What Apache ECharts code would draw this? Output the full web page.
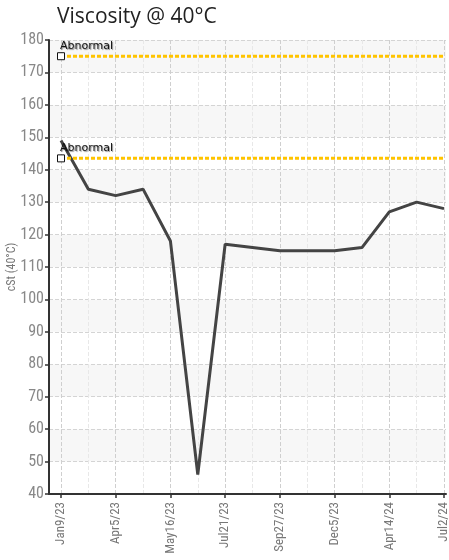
<!DOCTYPE html>
<html>
<head>
<meta charset="utf-8">
<script src="https://cdn.jsdelivr.net/npm/echarts@6/dist/echarts.min.js"></script>
<style>html,body{margin:0;padding:0;background:#fff;}#c{width:449px;height:560px;}</style>
</head>
<body>
<div id="c"></div>
<script>
const categories = ['Jan9/23','Feb15/23','Apr5/23','Apr25/23','May16/23','Jun8/23','Jul21/23','Aug20/23','Sep27/23','Nov1/23','Dec5/23','Feb10/24','Apr14/24','May20/24','Jul2/24'];
const viscosity = [149, 134, 132, 134, 118, 46, 117, 116, 115, 115, 115, 116, 127, 130, 128];
const abnormalHigh = 175;
const abnormalLow = 143.5;
const abnormalLabel = 'Abnormal';
const yMin = 40, yMax = 180, yStep = 10;

const narrow = "'Liberation Sans Narrow', 'Roboto Condensed', 'Arial Narrow', sans-serif";

function thresholdData(v) {
  return categories.map((c, i) => i === 0 ? {
    value: v,
    symbol: 'rect',
    symbolSize: 7,
    itemStyle: {color: '#fff', borderColor: '#111', borderWidth: 1},
    label: {
      show: true, formatter: abnormalLabel, position: [3, -6], align: 'left', verticalAlign: 'middle',
      fontFamily: 'DejaVu Sans', fontSize: 11, color: '#111',
      textShadowColor: 'rgba(0,0,0,0.45)', textShadowBlur: 1, textShadowOffsetX: 1, textShadowOffsetY: 1
    }
  } : {value: v, symbol: 'none'});
}

const chart = echarts.init(document.getElementById('c'), null, {renderer: 'canvas'});
chart.setOption({
  animation: false,
  backgroundColor: '#fff',
  title: {
    text: 'Viscosity @ 40°C', left: 52, top: 3, padding: [4, 5],
    textStyle: {fontFamily: 'Open Sans', fontSize: 21, fontWeight: 'normal', color: '#222'}
  },
  grid: [
    {left: 49, right: 3, top: 40, bottom: 66, containLabel: false, outerBoundsMode: 'none'},
    {left: 61, right: 5, top: 40, bottom: 66, containLabel: false, outerBoundsMode: 'none'}
  ],
  xAxis: [
    {
      gridIndex: 0, type: 'value', min: 0, max: 1,
      axisLine: {show: true, lineStyle: {color: '#333', width: 2}},
      axisTick: {show: false}, axisLabel: {show: false}, splitLine: {show: false}
    },
    {
      gridIndex: 1, type: 'category', data: categories, boundaryGap: false,
      axisLine: {show: false},
      axisTick: {show: true, interval: 1, length: 4, lineStyle: {color: '#333', width: 1.5}},
      axisLabel: {interval: 1, rotate: 90, margin: 8, fontFamily: narrow, fontSize: 13, color: '#777'},
      splitLine: {show: true, interval: 0, lineStyle: {type: 'dashed', color: ['#cfcfcf', '#e8e8e8'], width: 1}}
    }
  ],
  yAxis: [
    {
      gridIndex: 0, type: 'value', min: yMin, max: yMax, interval: yStep,
      name: 'cSt (40°C)', nameLocation: 'middle', nameGap: 31, nameMoveOverlap: false,
      nameTextStyle: {fontFamily: narrow, fontSize: 12, color: '#777'},
      axisLine: {show: true, lineStyle: {color: '#333', width: 2}},
      axisTick: {show: true, length: 4, lineStyle: {color: '#333', width: 1.5}},
      axisLabel: {margin: 5, fontFamily: narrow, fontSize: 16, color: '#888'},
      splitLine: {show: true, lineStyle: {type: 'dashed', color: '#d4d4d4', width: 1}},
      splitArea: {show: true, areaStyle: {color: ['#ffffff', '#f7f7f7']}}
    },
    {
      gridIndex: 1, type: 'value', min: yMin, max: yMax, interval: yStep, show: false
    }
  ],
  series: [
    {
      type: 'line', xAxisIndex: 1, yAxisIndex: 1, data: thresholdData(abnormalHigh),
      symbol: 'none', showSymbol: true, z: 3,
      lineStyle: {color: '#FFC400', width: 3, type: [4, 2]}
    },
    {
      type: 'line', xAxisIndex: 1, yAxisIndex: 1, data: viscosity,
      symbol: 'none', z: 4,
      lineStyle: {color: '#444', width: 3}
    },
    {
      type: 'line', xAxisIndex: 1, yAxisIndex: 1, data: thresholdData(abnormalLow),
      symbol: 'none', showSymbol: true, z: 5,
      lineStyle: {color: '#FFC400', width: 3, type: [4, 2]}
    }
  ]
});
</script>
</body>
</html>
